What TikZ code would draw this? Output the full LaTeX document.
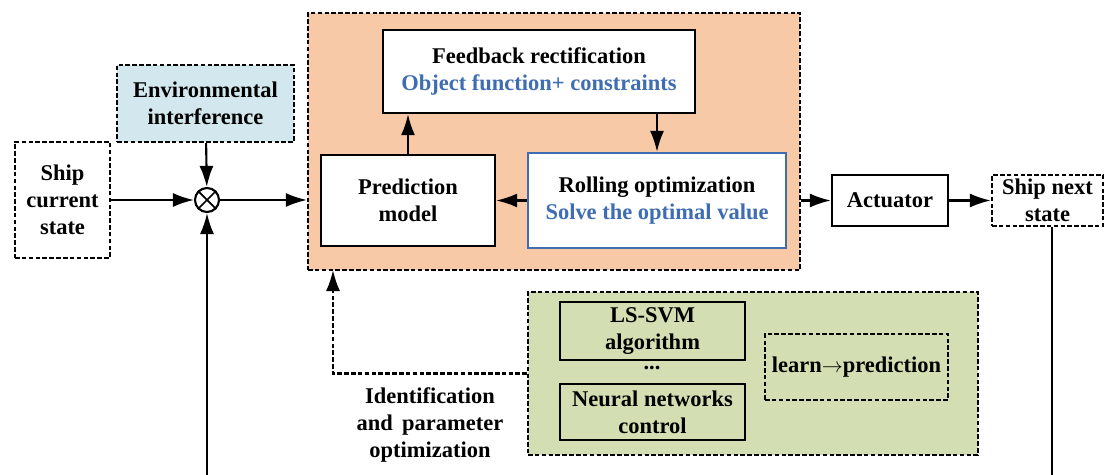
\documentclass[tikz,border=0pt]{standalone}
\usepackage{fontspec}
\setmainfont{Liberation Serif}
\usetikzlibrary{arrows.meta}
\definecolor{mpcfill}{HTML}{F8C9A7}
\definecolor{envfill}{HTML}{D3E8EE}
\definecolor{learnfill}{HTML}{D3DFB2}
\definecolor{txtblue}{HTML}{3F6DB3}
\tikzset{
    box/.style={draw, line width=1.3pt, align=center, inner sep=2pt},
    dbox/.style={draw, line width=1.3pt, dash pattern=on 2.6pt off 1.3pt, align=center, inner sep=2pt},
    arr/.style={-{Latex[length=12pt,width=8pt]}, line width=1.2pt},
}
\begin{document}
\begin{tikzpicture}[x=0.02cm, y=-0.02cm, font=\fontsize{12.8}{15.5}\selectfont\bfseries]
    \useasboundingbox (0,0) rectangle (1105,475);
    % groups
    \node (mpc) [dbox, fill=mpcfill, minimum width=9.84cm, minimum height=5.14cm] at (554,141.5) {};
    \node (learn) [dbox, fill=learnfill, minimum width=9cm, minimum height=3.26cm] at (753,373.5) {};

    \node (cur) [dbox, minimum width=1.9cm, minimum height=2.32cm] at (62.5,200) {Ship\\current\\state};
    \node (env) [dbox, fill=envfill, minimum width=3.54cm, minimum height=1.54cm] at (205.5,103.5) {Environmental\\interference};
    \node (sum) [draw, circle, line width=1.2pt, minimum size=0.48cm, inner sep=0pt] at (207,200) {};
    \draw[line width=1pt] (sum.north east) -- (sum.south west) (sum.north west) -- (sum.south east);

    \node (fb) [box, minimum width=6.24cm, minimum height=1.66cm, fill=white] at (539,71.5) {Feedback rectification\\\textcolor{txtblue}{Object function+ constraints}};
    \node (pred) [box, minimum width=3.48cm, minimum height=1.82cm, fill=white] at (408,200.5) {Prediction\\model};
    \node (roll) [box, draw=txtblue, minimum width=5.16cm, minimum height=1.9cm, fill=white] at (657,200.5) {Rolling optimization\\\textcolor{txtblue}{Solve the optimal value}};
    \node (act) [box, minimum width=2.32cm, minimum height=1.02cm] at (890,200.5) {Actuator};
    \node (next) [dbox, minimum width=2.22cm, minimum height=1.02cm] at (1047.5,200.5) {Ship next\\state};

    \node (svm) [box, minimum width=3.7cm, minimum height=1.16cm] at (652.5,331) {LS-SVM\\algorithm};
    \node (dots) at (652,368) {...};
    \node (nn) [box, minimum width=3.7cm, minimum height=1.12cm] at (652.5,412) {Neural networks\\control};
    \node (lp) [dbox, minimum width=3.66cm, minimum height=1.32cm] at (856.5,367) {learn$\rightarrow$prediction};
    \node (ident) [align=center] at (430,425) {Identification\\and\, parameter\\optimization};

    \coordinate (idin) at (333,270);
    \coordinate (bl) at (207,475);
    \coordinate (br) at (1052,475);

    \draw[arr] (cur) -- (sum);
    \draw[arr] (env) -- (sum);
    \draw[arr] (sum) -- (sum -| mpc.west);
    \draw[arr] (pred.north) -- (pred.north |- fb.south);
    \draw[arr] (roll.north |- fb.south) -- (roll.north);
    \draw[arr] (roll) -- (pred);
    \draw[arr] (mpc.east |- act) -- (act);
    \draw[arr] (act) -- (next);
    \draw[arr, dash pattern=on 2.6pt off 1.3pt] (learn.west) -| (idin);
    \draw[arr] (bl) -- (sum.south);
    \draw[line width=1.2pt] (next.south -| br) -- (br);
\end{tikzpicture}
\end{document}
